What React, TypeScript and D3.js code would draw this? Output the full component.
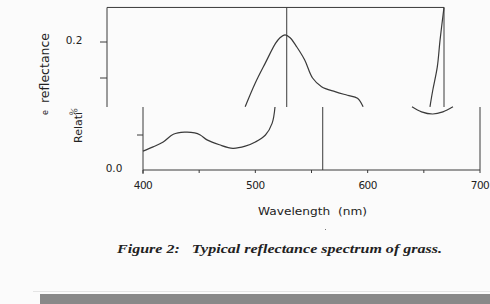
import * as d3 from 'd3';

// wavelength ticks (nm)
const xTicks = [400, 500, 600, 700];
const xMinorTicks = [450, 550, 650];
const frameLines = [560, 700];

// lower panel: short-wave part of the curve [nm, reflectance]
const lowerCurve: [number, number][] = [
  [400, 0.027], [409, 0.033], [418, 0.04], [427, 0.051], [437, 0.054],
  [446, 0.053], [451, 0.05], [457, 0.043], [468, 0.036], [480, 0.031],
  [491, 0.034], [500, 0.04], [509, 0.05], [515, 0.067], [517.5, 0.09],
];

// upper panel: green peak
const peakCurve: [number, number][] = [
  [523, 0.11], [532, 0.143], [541, 0.171], [550, 0.198], [554, 0.206],
  [558.5, 0.21], [563, 0.206], [569, 0.193], [576, 0.175], [583, 0.15],
  [591, 0.138], [603, 0.131], [614, 0.126], [623, 0.122], [628, 0.11],
];

// upper panel: red dip
const dipCurve: [number, number][] = [
  [671.5, 0.11], [680, 0.103], [690, 0.1], [699, 0.103], [708, 0.11],
];

// upper panel: red edge
const edgeCurve: [number, number][] = [
  [687.5, 0.11], [690, 0.133], [694, 0.165], [696.5, 0.203], [700, 0.248],
];

const lowerYTicks = [0.05];
const upperYTicks = [0.15, 0.2];

const ink = '#3a3a3a';

export default function App() {
  const x = d3.scaleLinear().domain([400, 700]).range([143, 480]);
  const shift = -36;
  const xUp = (v: number) => x(v) + shift;
  const yLow = d3.scaleLinear().domain([0, 0.05]).range([170, 135]);
  const yUp = d3.scaleLinear().domain([0.15, 0.2]).range([78, 42]);

  const lowLine = d3.line<[number, number]>()
    .x(d => x(d[0]))
    .y(d => yLow(d[1]))
    .curve(d3.curveCatmullRom.alpha(0.5));
  const upLine = d3.line<[number, number]>()
    .x(d => xUp(d[0]))
    .y(d => yUp(d[1]))
    .curve(d3.curveCatmullRom.alpha(0.5));

  const panelSplit = 107;
  const upTop = yUp(0.248);

  return (
    <svg
      width={490}
      height={304}
      style={{ position: 'absolute', left: 0, top: 0, background: '#fbfbfb' }}
    >
      {/* upper (shifted) panel */}
      <g stroke={ink} strokeWidth={1} fill="none">
        <line x1={xUp(400)} x2={xUp(400)} y1={upTop} y2={panelSplit} />
        <line x1={xUp(400)} x2={xUp(700)} y1={upTop} y2={upTop} />
        {frameLines.map(v => (
          <line key={v} x1={xUp(v)} x2={xUp(v)} y1={upTop} y2={panelSplit} />
        ))}
        {upperYTicks.map(v => (
          <line key={v} x1={xUp(400) - 7} x2={xUp(400)} y1={yUp(v)} y2={yUp(v)} />
        ))}
        <path d={upLine(peakCurve) ?? ''} strokeWidth={1.2} />
        <path d={upLine(dipCurve) ?? ''} strokeWidth={1.2} />
        <path d={upLine(edgeCurve) ?? ''} strokeWidth={1.2} />
      </g>

      {/* lower panel */}
      <g stroke={ink} strokeWidth={1} fill="none">
        <line x1={x(400)} x2={x(400)} y1={panelSplit} y2={yLow(0) + 4} />
        <line x1={x(400)} x2={x(700)} y1={yLow(0)} y2={yLow(0)} />
        {frameLines.map(v => (
          <line key={v} x1={x(v)} x2={x(v)} y1={panelSplit} y2={yLow(0)} />
        ))}
        {lowerYTicks.map(v => (
          <line key={v} x1={x(400) - 6} x2={x(400)} y1={yLow(v)} y2={yLow(v)} />
        ))}
        {[...xTicks, ...xMinorTicks].map(v => (
          <line key={v} x1={x(v)} x2={x(v)} y1={yLow(0)} y2={yLow(0) + 3} />
        ))}
        <path d={lowLine(lowerCurve) ?? ''} strokeWidth={1.2} />
      </g>

      <g fontFamily="'DejaVu Sans', sans-serif" fill="#222" fontSize={10.5}>
        <text x={74} y={44} textAnchor="middle">0.2</text>
        <text x={114} y={172} textAnchor="middle">0.0</text>
        {xTicks.map(v => (
          <text key={v} x={x(v)} y={189} textAnchor="middle" letterSpacing={-0.5}>{v}</text>
        ))}
        <text
          x={258}
          y={215}
          fontSize={10}
          textLength={109}
          lengthAdjust="spacingAndGlyphs"
          style={{ whiteSpace: 'pre' }}
        >
          {'Wavelength  (nm)'}
        </text>
        <text transform="translate(49,103) rotate(-90)" fontSize={12.5}>reflectance</text>
        <text transform="translate(48,115) rotate(-90)" fontSize={8}>e</text>
        <text transform="translate(82,143) rotate(-90)" fontSize={11}>Relati</text>
        <text transform="translate(75,117) rotate(-70)" fontSize={9} fill="#555">%</text>
      </g>

      <rect x={325} y={229} width={1} height={1} fill="#777" />

      <text
        x={117}
        y={253}
        fontFamily="'Liberation Serif', serif"
        fontStyle="italic"
        fontWeight="bold"
        fontSize={12}
        fill="#222"
        textLength={325}
        lengthAdjust="spacingAndGlyphs"
        style={{ whiteSpace: 'pre' }}
      >
        {'Figure 2:   Typical reflectance spectrum of grass.'}
      </text>

      <rect x={33} y={291} width={457} height={1} fill="#e4e4e4" />
      <rect x={40} y={294} width={450} height={10} fill="#898989" />
    </svg>
  );
}
